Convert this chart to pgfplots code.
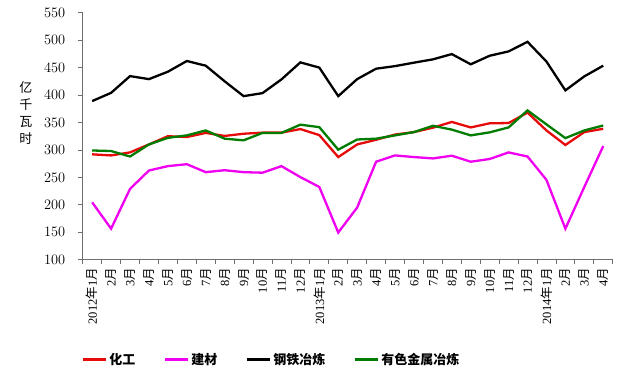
\documentclass[border=0pt]{standalone}
\usepackage{fontspec}
\setmainfont{Liberation Serif}
\newfontfamily\cjk{Noto Sans CJK SC}
\usepackage{pgfplots}
\pgfplotsset{compat=1.18}
\definecolor{cred}{RGB}{230,10,10}
\definecolor{cmag}{RGB}{240,0,240}
\definecolor{cgreen}{RGB}{0,125,0}
\definecolor{axgray}{RGB}{110,110,110}
\newcommand\nian{{\cjk 年}}
\newcommand\yue{{\cjk 月}}
\begin{document}
\begin{tikzpicture}
\path[use as bounding box] (-82.7pt,-116pt) rectangle (544.3pt,259.7pt);
\begin{axis}[
  at={(0,0)}, anchor=south west,
  scale only axis, width=530pt, height=247pt,
  axis x line=bottom, axis y line=left,
  axis line style={-, axgray, line width=0.8pt},
  xmin=-0.5, xmax=27.5, ymin=100, ymax=550,
  ytick={100,150,...,550},
  xtick={0,...,27},
  xticklabels={2012\nian1\yue,2\yue,3\yue,4\yue,5\yue,6\yue,7\yue,8\yue,9\yue,10\yue,11\yue,12\yue,
    2013\nian1\yue,2\yue,3\yue,4\yue,5\yue,6\yue,7\yue,8\yue,9\yue,10\yue,11\yue,12\yue,
    2014\nian1\yue,2\yue,3\yue,4\yue},
  minor xtick={-0.5,0.5,...,27.5},
  major x tick style={draw=none},
  tick align=outside,
  major tick length=5pt, minor tick length=4pt,
  tick style={axgray, line width=0.8pt},
  yticklabel style={font=\fontsize{14}{16}\selectfont, xshift=-9pt},
  xticklabel style={font=\fontsize{12.5}{14}\selectfont, rotate=90, anchor=east},
  ylabel={\fontsize{13}{17}\selectfont\cjk\begin{tabular}{@{}c@{}}亿\\千\\瓦\\时\end{tabular}},
  ylabel style={rotate=-90, at={(axis description cs:-0.107,0.589)}, anchor=center},
  legend columns=4,
  legend style={at={(axis description cs:0.356,-0.405)}, anchor=center, draw=none,
    font=\fontsize{13}{15}\selectfont\cjk\bfseries,
    /tikz/every odd column/.append style={column sep=0pt},
    /tikz/every even column/.append style={column sep=26pt}},
  legend image code/.code={\draw[#1, line width=3pt] (0pt,0pt) -- (23pt,0pt);},
  every axis plot/.append style={line width=2.3pt},
]
\addplot[cred] coordinates {(0,292)(1,290)(2,295.5)(3,310)(4,325)(5,323.5)(6,331)(7,325.5)(8,329.5)(9,331.5)(10,331.5)(11,338)(12,327)(13,287)(14,310)(15,318.5)(16,328)(17,332.5)(18,340.5)(19,351)(20,341)(21,348.5)(22,349)(23,368)(24,335.5)(25,309)(26,332.5)(27,338.5)};
\addlegendentry{化工}
\addplot[cmag] coordinates {(0,204.5)(1,156.5)(2,229)(3,262.5)(4,270.5)(5,274)(6,259.5)(7,263)(8,259.5)(9,258.5)(10,270.5)(11,250.5)(12,232.5)(13,149.5)(14,195)(15,278.5)(16,290)(17,287)(18,284.5)(19,289.5)(20,278.5)(21,283.5)(22,295.5)(23,288)(24,245.5)(25,156.5)(26,232.5)(27,307)};
\addlegendentry{建材}
\addplot[black] coordinates {(0,389)(1,404)(2,434.5)(3,429)(4,442.5)(5,462)(6,453.5)(7,425)(8,398)(9,403.5)(10,428.5)(11,459.5)(12,450)(13,398)(14,429)(15,448)(16,452.7)(17,459)(18,465)(19,474.6)(20,456)(21,471.6)(22,479.5)(23,497)(24,461)(25,408.5)(26,434)(27,453.5)};
\addlegendentry{钢铁冶炼}
\addplot[cgreen] coordinates {(0,299)(1,298)(2,288)(3,310)(4,322)(5,326.5)(6,335.5)(7,320.5)(8,317.5)(9,331)(10,331)(11,346)(12,341.5)(13,300.5)(14,319)(15,320.5)(16,326.5)(17,332.5)(18,344)(19,337)(20,326.5)(21,332)(22,341)(23,372)(24,346.5)(25,321.5)(26,335.5)(27,344.5)};
\addlegendentry{有色金属冶炼}
\end{axis}
\end{tikzpicture}
\end{document}
